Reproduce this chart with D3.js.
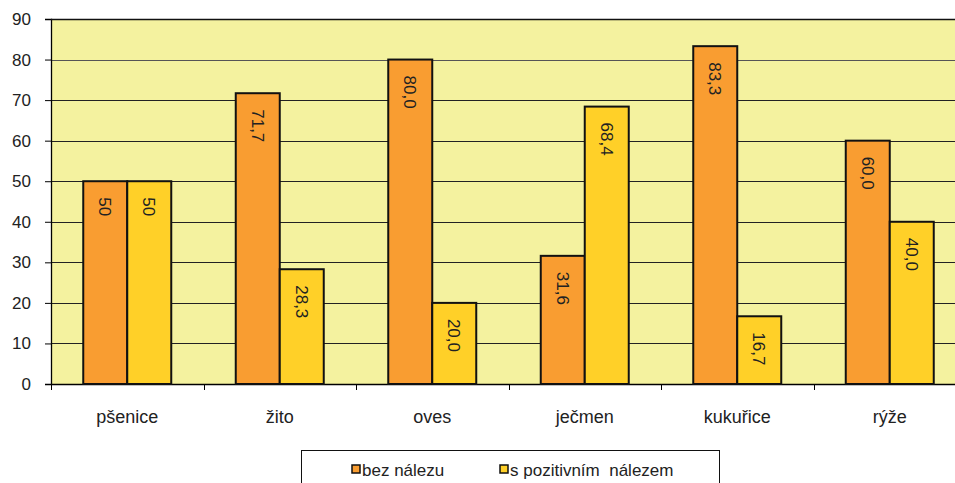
<!DOCTYPE html>
<html><head><meta charset="utf-8">
<script src="https://cdn.jsdelivr.net/npm/d3@7"></script>
<style>body{margin:0;background:#fff}svg{display:block;font-family:"Liberation Sans",Arial,sans-serif}</style>
</head><body>
<svg id="c" width="955" height="483"></svg>
<script>
const categories = ["pšenice","žito","oves","ječmen","kukuřice","rýže"];
const seriesNames = ["bez nálezu","s pozitivním  nálezem"];
const bez = [50, 71.7, 80.0, 31.6, 83.3, 60.0];
const pozit = [50, 28.3, 20.0, 68.4, 16.7, 40.0];
const labelsBez = ["50","71,7","80,0","31,6","83,3","60,0"];
const labelsPoz = ["50","28,3","20,0","68,4","16,7","40,0"];
const yTicks = [0,10,20,30,40,50,60,70,80,90];
const colors = ["#F99D31","#FFD028"];

const svg = d3.select("#c");
const L = 51, T = 19, B = 384, bandW = 152.5;
const x = d3.scaleBand().domain(categories).range([L, L + bandW*6]).paddingInner(0).paddingOuter(0);
const y = d3.scaleLinear().domain([0,90]).range([B, T]);
const FONT = "Liberation Sans, Arial, sans-serif";

svg.append("rect").attr("x",L).attr("y",T).attr("width",955-L).attr("height",B-T).attr("fill","#F4F29F");

// gridlines
svg.append("g").selectAll("line").data(yTicks.filter(d=>d>0)).join("line")
  .attr("x1",L).attr("x2",955).attr("y1",d=>Math.round(y(d))+0.5).attr("y2",d=>Math.round(y(d))+0.5)
  .attr("stroke",d=>d===80?"#555":"#222").attr("stroke-width",1.2);

// y axis
const yAxis = d3.axisLeft(y).tickValues(yTicks).tickSize(6).tickPadding(14);
const gy = svg.append("g").attr("transform",`translate(${L},0)`).call(yAxis);
gy.select(".domain").attr("stroke","#000").attr("stroke-width",1.3);
gy.selectAll(".tick line").attr("stroke","#000");
gy.selectAll("text").attr("font-size",17).attr("fill","#222").style("font-family",FONT);

// x axis
const xAxis = d3.axisBottom(x).tickSize(0).tickPadding(26);
const gx = svg.append("g").attr("transform",`translate(0,${B})`).call(xAxis);
gx.select(".domain").attr("stroke","#000").attr("stroke-width",1.3);
gx.selectAll("text").attr("font-size",18).attr("fill","#222").style("font-family",FONT);
// boundary ticks
svg.append("g").selectAll("line").data(d3.range(0,7)).join("line")
  .attr("x1",i=>Math.round(L+i*bandW)+0.5).attr("x2",i=>Math.round(L+i*bandW)+0.5)
  .attr("y1",B).attr("y2",B+6).attr("stroke","#000");

const barW = 44;
const sub = d3.scaleBand().domain([0,1]).range([0, barW*2]);
const data = categories.map((c,i)=>({c, v:[bez[i],pozit[i]], l:[labelsBez[i],labelsPoz[i]]}));
const g = svg.append("g");
data.forEach(d=>{
  const x0 = x(d.c) + x.bandwidth()/2 - barW;
  [0,1].forEach(s=>{
    const bx = x0 + sub(s), by = y(d.v[s]);
    g.append("rect").attr("x",bx).attr("y",by).attr("width",sub.bandwidth()).attr("height",B-by)
      .attr("fill",colors[s]).attr("stroke","#111").attr("stroke-width",2);
    g.append("text").attr("transform",`translate(${bx+sub.bandwidth()/2},${by+16}) rotate(90)`)
      .attr("dy","0.35em").attr("text-anchor","start").attr("font-size",17).attr("fill","#222")
      .text(d.l[s]);
  });
});

// top border
svg.append("line").attr("x1",L).attr("x2",955).attr("y1",T+0.5).attr("y2",T+0.5).attr("stroke","#111").attr("stroke-width",1.3);

// legend
const lg = svg.append("g");
lg.append("rect").attr("x",301.5).attr("y",450.5).attr("width",418).attr("height",40).attr("fill","#fff").attr("stroke","#111");
const legX = [352, 500];
seriesNames.forEach((n,i)=>{
  lg.append("rect").attr("x",legX[i]).attr("y",465).attr("width",8).attr("height",8).attr("fill",colors[i]).attr("stroke","#111").attr("stroke-width",1.5);
  lg.append("text").attr("x",legX[i]+10).attr("y",476).attr("font-size",17).attr("fill","#222").style("white-space","pre").text(n);
});
</script>
</body></html>
